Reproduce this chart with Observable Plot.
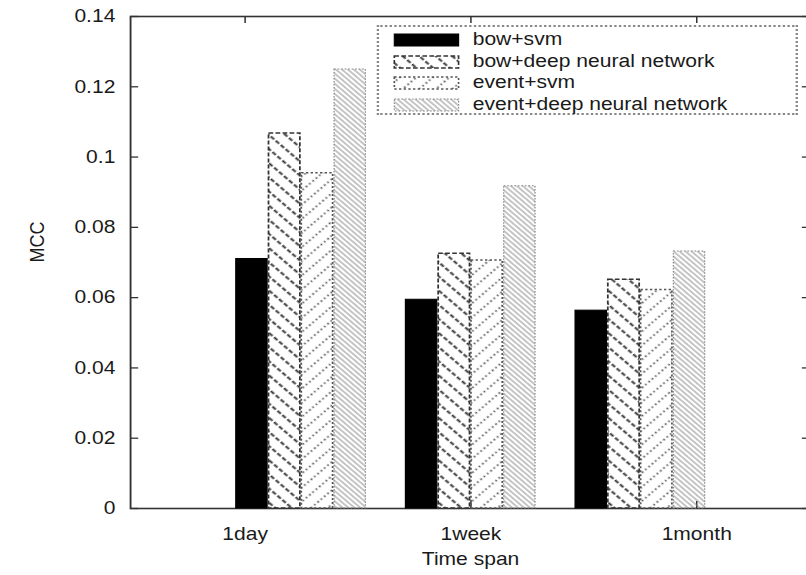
<!DOCTYPE html>
<html><head><meta charset="utf-8">
<script src="https://cdn.jsdelivr.net/npm/d3@7"></script>
<script src="https://cdn.jsdelivr.net/npm/@observablehq/plot@0.6"></script>
<style>
html,body{margin:0;padding:0;overflow:hidden;background:#fff;width:806px;height:575px}
#wrap{position:relative;width:694px;height:575px;transform:scaleX(1.17);transform-origin:0 0;}
#wrap > *{position:absolute;left:0;top:0}
#legend{box-sizing:border-box;border:2px dotted #888;background:#fff;font-family:'Liberation Sans',Arial,sans-serif;font-size:18px;color:#1a1a1a}
.row{position:relative;height:21.6px;line-height:21.6px;white-space:nowrap}
.row svg{position:absolute;left:12px;top:4px}
.row span{position:absolute;left:80px;top:0}
</style></head><body>
<svg width="0" height="0" style="position:absolute;left:0;top:0">
  <defs>
    <pattern id="p2" patternUnits="userSpaceOnUse" width="10" height="12" patternTransform="rotate(-45)">
      <line x1="5" y1="0" x2="5" y2="12" stroke="#333" stroke-width="1.8" stroke-dasharray="4 2"/>
    </pattern>
    <pattern id="p3" patternUnits="userSpaceOnUse" width="10" height="12" patternTransform="rotate(45)">
      <line x1="5" y1="0" x2="5" y2="12" stroke="#555" stroke-width="1.6" stroke-dasharray="1.6 2.4"/>
    </pattern>
    <pattern id="p4" patternUnits="userSpaceOnUse" width="3.6" height="4" patternTransform="rotate(-45)">
      <line x1="1.8" y1="0" x2="1.8" y2="4" stroke="#8a8a8a" stroke-width="0.9"/>
    </pattern>
  </defs>
</svg>
<div id="wrap"></div>
<script>
const categories = ["1day", "1week", "1month"];
const series = ["bow+svm", "bow+deep neural network", "event+svm", "event+deep neural network"];
const bowSvm   = [0.0710, 0.0594, 0.0563];
const bowDnn   = [0.1067, 0.0725, 0.0651];
const eventSvm = [0.0954, 0.0706, 0.0622];
const eventDnn = [0.1249, 0.0917, 0.0731];
const yTickValues = [0, 0.02, 0.04, 0.06, 0.08, 0.1, 0.12, 0.14];
const yTickLabels = ["0", "0.02", "0.04", "0.06", "0.08", "0.1", "0.12", "0.14"];
const xLabel = "Time span";
const yLabel = "MCC";

const seriesValues = [bowSvm, bowDnn, eventSvm, eventDnn];
const data = categories.flatMap((c, i) => series.map((s, j) => ({cat: c, series: s, value: seriesValues[j][i]})));

const fills = ["black", "url(#p2)", "url(#p3)", "url(#p4)"];
const strokes = ["black", "#333", "#555", "#888"];
const dashes = [null, "4 2", "2 2", "1.5 1.5"];
const strokeWidths = [1, 1.5, 1.5, 1];

const W = 694, H = 575, ML = 111.1, MR = 1.7, MT = 16, MB = 67;
const FW = W - ML - MR, FH = H - MT - MB;
const font = "'Liberation Sans', Arial, Helvetica, sans-serif";
const common = {
  width: W, height: H, marginLeft: ML, marginRight: MR, marginTop: MT, marginBottom: MB,
  style: {fontFamily: font, fontSize: "18px", color: "#1a1a1a", background: "transparent", overflow: "visible"}
};
const bandPad = {paddingInner: 0.21, paddingOuter: 0.605};

const base = Plot.plot({
  ...common,
  x: {domain: categories, ...bandPad, axis: null, label: null},
  y: {domain: [0, 0.14], axis: null, label: null},
  marks: [
    Plot.frame({stroke: "#333", strokeWidth: 1.6}),
    Plot.tickY(yTickValues, {y: d => d, insetRight: FW - 7, stroke: "#333", strokeWidth: 1.3}),
    Plot.tickY(yTickValues, {y: d => d, insetLeft: FW - 7, stroke: "#333", strokeWidth: 1.3}),
    Plot.tickX(categories, {x: d => d, insetBottom: FH - 7, stroke: "#333", strokeWidth: 1.3}),
    Plot.tickX(categories, {x: d => d, insetTop: FH - 7, stroke: "#333", strokeWidth: 1.3}),
    Plot.axisY({ticks: yTickValues, tickFormat: d => yTickLabels[yTickValues.indexOf(d)], tickSize: 0, tickPadding: 13, label: null, fontSize: 18}),
    Plot.axisX({tickSize: 0, tickPadding: 19, label: null, fontSize: 18}),
    Plot.text([yLabel], {frameAnchor: "left", dx: -80, rotate: -90, fontSize: 18, fill: "#1a1a1a"}),
    Plot.text([xLabel], {frameAnchor: "bottom", lineAnchor: "top", dy: 44, fontSize: 18, fill: "#1a1a1a"})
  ]
});

const bars = Plot.plot({
  ...common,
  fx: {domain: categories, ...bandPad, axis: null, label: null},
  x: {domain: series, padding: 0, axis: null, label: null},
  y: {domain: [0, 0.14], axis: null, label: null},
  marks: series.map((s, j) => Plot.barY(data.filter(d => d.series === s), {
    fx: "cat", x: "series", y: "value",
    fill: fills[j], stroke: strokes[j], strokeWidth: strokeWidths[j],
    strokeDasharray: dashes[j], insetLeft: 0.6, insetRight: 0.6
  }))
});

const wrap = document.getElementById("wrap");
wrap.append(base, bars);

// legend
const legend = document.createElement("div");
legend.id = "legend";
legend.style.left = "322px";
legend.style.top = "25px";
legend.style.width = "360px";
legend.style.height = "90px";
legend.style.paddingTop = "2px";
series.forEach((s, j) => {
  const row = document.createElement("div");
  row.className = "row";
  const ns = "http://www.w3.org/2000/svg";
  const sv = document.createElementNS(ns, "svg");
  sv.setAttribute("width", "57");
  sv.setAttribute("height", "14");
  const r = document.createElementNS(ns, "rect");
  r.setAttribute("x", "1"); r.setAttribute("y", "1");
  r.setAttribute("width", "55"); r.setAttribute("height", "12");
  r.setAttribute("fill", fills[j]);
  r.setAttribute("stroke", strokes[j]);
  r.setAttribute("stroke-width", strokeWidths[j]);
  if (dashes[j]) r.setAttribute("stroke-dasharray", dashes[j]);
  sv.append(r);
  const t = document.createElement("span");
  t.textContent = s;
  row.append(sv, t);
  legend.append(row);
});
wrap.append(legend);
</script>
</body></html>
